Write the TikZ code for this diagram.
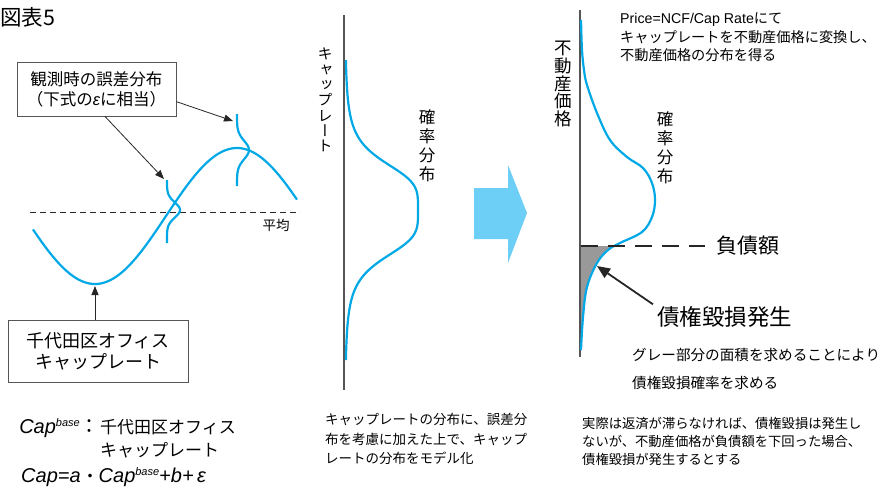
\documentclass[tikz,border=0pt]{standalone}
\usepackage{fontspec}
\setmainfont{Noto Sans CJK JP}
\newfontfamily\lat{Liberation Sans}
\newfontfamily\vjp[RawFeature=+vert]{Noto Sans CJK JP}
\usetikzlibrary{arrows.meta,calc}
\definecolor{cblue}{HTML}{00A8E6}
\definecolor{ablue}{HTML}{6DCFF6}
\definecolor{axgray}{HTML}{555555}
\definecolor{fillgray}{HTML}{999999}
\newcommand{\fs}[2]{\fontsize{#1}{#2}\selectfont}
\newcommand{\supbase}{\raisebox{7pt}{\fs{11}{11}\lat\itshape base}}
\begin{document}
\begin{tikzpicture}[x=1pt,y=-1pt,
  txt/.style={inner sep=0pt, align=left},
  vtxt/.style={inner sep=0pt, align=center},
  boxed/.style={draw=axgray, line width=0.9pt, inner sep=0pt, align=center},
  bluecurve/.style={cblue, line width=2.2pt},
  axisline/.style={axgray, line width=1.3pt},
  pointer/.style={draw=black!85, line width=0.8pt, -{Triangle[length=9pt,width=7pt]}},
  bigpointer/.style={draw=black!85, line width=1.8pt, -{Triangle[length=13pt,width=11pt]}}
]
\useasboundingbox (0,0) rectangle (884,488);

% title
\node[txt, anchor=west, font=\fs{21.5}{24}] (title) at (0,17) {図表5};

% ===== left panel =====
\node[boxed, minimum width=159pt, minimum height=54pt, font=\fs{16.5}{20}] (cb) at (96.5,89)
  {観測時の誤差分布\\（下式の{\lat\itshape ε}に相当）};

\draw[black!85, line width=0.8pt, dash pattern=on 6pt off 4pt] (30,212) -- (300,212);
\node[txt, font=\fs{13.5}{16}] (mean) at (276,225) {平均};

\draw[bluecurve] plot[domain=33:297, samples=120] (\x, {216-68*sin((\x-166)*1.26761)});
\draw[bluecurve] plot[domain=180:243, samples=60] ({167+13*exp(-((\x-210)^2)/(2*7.5^2))}, \x);
\draw[bluecurve] plot[domain=114:186, samples=60] ({237+12*exp(-((\x-150)^2)/(2*9^2))}, \x);

\coordinate (t1) at (164,179);
\coordinate (t2) at (233,121);
\draw[pointer] ($(cb.south)+(8.5,0)$) -- (t1);
\draw[pointer] (cb.-9) -- (t2);

\node[boxed, minimum width=180pt, minimum height=62pt, font=\fs{18}{21}] (cb2) at (98,351)
  {千代田区オフィス\\キャップレート};
\coordinate (t3) at (95,286);
\draw[pointer] ($(cb2.north)+(-3,0)$) -- (t3);

\node[txt, anchor=east, font=\fs{20}{22}] (capb) at (100,428) {{\lat\itshape Cap}\supbase：};
\node[txt, anchor=west, font=\fs{17}{23}] (capbdef) at (100,439) {千代田区オフィス\\キャップレート};
\node[txt, anchor=west, font=\fs{20}{22}] (capeq) at (21,477)
  {{\lat\itshape Cap=a}\hspace{1pt}{\fs{17}{20}・}{\lat\itshape Cap}\supbase{\lat\itshape +b+\,ε}};

% ===== middle panel =====
\draw[axisline] (344,15) -- (344,390);
\node[vtxt, font=\vjp\fs{15}{15.3}] (capv) at (325,100) {キ\\ャ\\ッ\\プ\\レ\\ー\\ト};
\node[vtxt, font=\fs{16.5}{19}] (probm) at (427,146) {確\\率\\分\\布};
\draw[bluecurve] plot[domain=60:360, samples=150] ({345+73/(1+((\x-210)/50)^4)}, \x);
\node[txt, anchor=north west, font=\fs{13.5}{19.5}] (midtext) at (325,413)
  {キャップレートの分布に、誤差分\\布を考慮に加えた上で、キャップ\\レートの分布をモデル化};

% blue block arrow
\fill[ablue] (474,188) -- (508,188) -- (508,165) -- (527,213) -- (508,263) -- (508,239) -- (474,239) -- cycle;

% ===== right panel =====
\draw[axisline] (580,10) -- (580,357);
\node[vtxt, font=\fs{17.5}{17.8}] (pricev) at (563,84) {不\\動\\産\\価\\格};
\node[vtxt, font=\fs{16.5}{19}] (probr) at (665,148) {確\\率\\分\\布};
\node[txt, anchor=north west, font=\fs{14.2}{18.5}] (toptext) at (620,13)
  {{\lat Price=NCF/Cap Rate}にて\\キャップレートを不動産価格に変換し、\\不動産価格の分布を得る};

\begin{scope}
  \clip (575,246) rectangle (720,400);
  \fill[fillgray] (581,20) -- plot[smooth, tension=0.6] coordinates {
    (581,20) (582,50) (584,70) (587,85) (597,113) (610,140) (627,157) (643,168)
    (652,183) (655,200) (652,217) (642,232) (620,243) (608,250) (597,263) (587,287)
    (583,317) (581,350)} -- cycle;
\end{scope}
\draw[bluecurve] plot[smooth, tension=0.6] coordinates {
    (581,20) (582,50) (584,70) (587,85) (597,113) (610,140) (627,157) (643,168)
    (652,183) (655,200) (652,217) (642,232) (620,243) (608,250) (597,263) (587,287)
    (583,317) (581,350)};
\draw[black!85, line width=2pt, dash pattern=on 17pt off 10pt] (581,246) -- (705,246);
\node[txt, anchor=west, font=\fs{21}{24}] (debt) at (716,246) {負債額};

\node[txt, anchor=west, font=\fs{22.5}{26}] (loss) at (657,317) {債権毀損発生};
\coordinate (t4) at (597,266);
\draw[bigpointer] ($(loss.north west)+(-4,-2)$) -- (t4);

\node[txt, anchor=west, font=\fs{14.6}{28}] (graytext) at (632,369)
  {グレー部分の面積を求めることにより\\債権毀損確率を求める};
\node[txt, anchor=north west, font=\fs{13.3}{18}] (bottext) at (582,417)
  {実際は返済が滞らなければ、債権毀損は発生し\\ないが、不動産価格が負債額を下回った場合、\\債権毀損が発生するとする};
\end{tikzpicture}
\end{document}
